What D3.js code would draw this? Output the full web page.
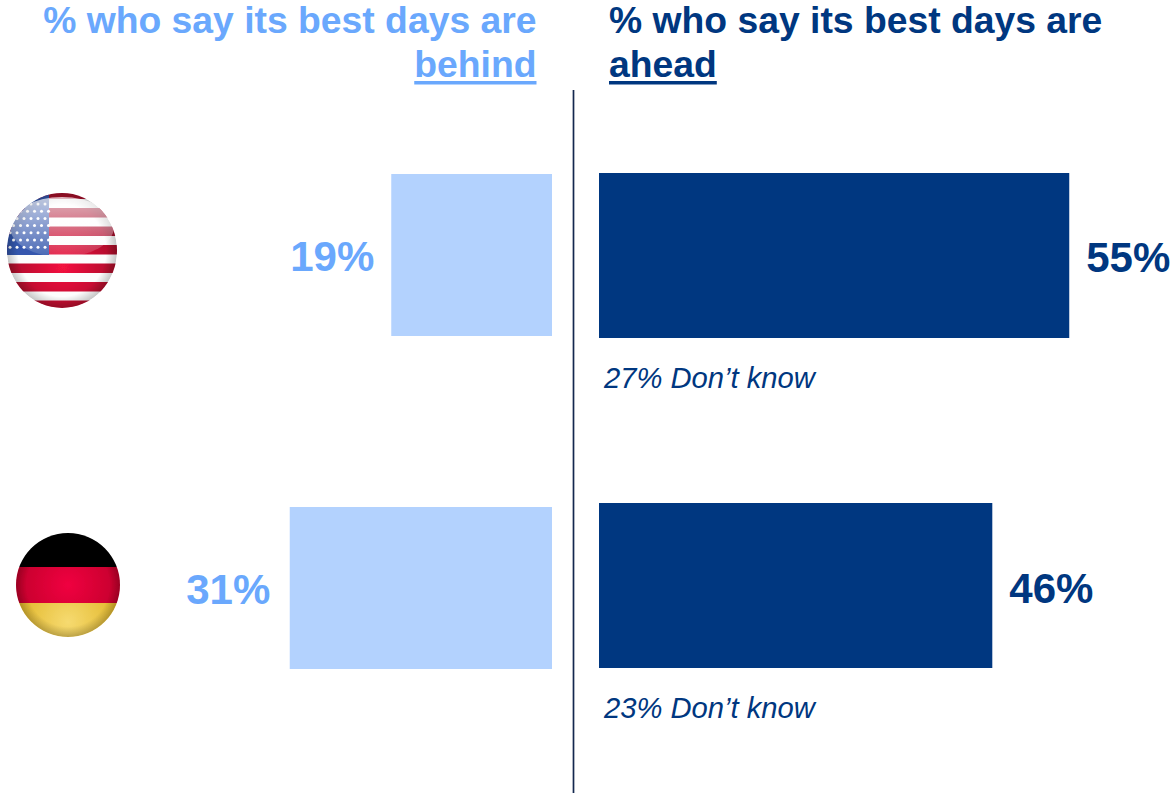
<!DOCTYPE html>
<html>
<head>
<meta charset="utf-8">
<script src="https://cdn.jsdelivr.net/npm/d3@7"></script>
<style>
html, body { margin: 0; padding: 0; background: #fff; }
svg { display: block; font-family: "Liberation Sans", Arial, sans-serif; }
</style>
</head>
<body>
<div id="chart"></div>
<script>
const countries = ['United States', 'Germany'];
const behind = [19, 31];
const ahead = [55, 46];
const dontKnow = [27, 23];

const lightBar = '#b3d2fe';
const lightText = '#6aa8fd';
const navy = '#003780';

const width = 1171;
const height = 793;

const svg = d3.select('#chart').append('svg')
    .attr('width', width)
    .attr('height', height);

const defs = svg.append('defs');

// x scales, the two sides grow away from the divider
const xBehind = d3.scaleLinear().domain([0, 100]).range([552, 552 - 846]);
const xAhead = d3.scaleLinear().domain([0, 100]).range([599, 599 + 855]);

// y scales
const yBehind = d3.scaleBand().domain(countries).range([174, 669]).paddingInner(0.5135);
const yAhead = d3.scaleBand().domain(countries).range([173, 668]).paddingInner(0.5);

// titles, underline drawn by hand because it is thicker than the font's own
function title(x, anchor, color, first, second) {
    const t = svg.append('text')
        .attr('text-anchor', anchor)
        .attr('font-weight', 'bold')
        .attr('font-size', 37.3)
        .attr('fill', color);
    t.append('tspan').attr('x', x).attr('y', 33).text(first);
    const s = t.append('tspan').attr('x', x).attr('y', 77).text(second);
    const w = s.node().getComputedTextLength();
    svg.append('rect')
        .attr('x', anchor === 'end' ? x - w : x)
        .attr('y', 81)
        .attr('width', w)
        .attr('height', 3.5)
        .attr('fill', color);
}
title(536.5, 'end', lightText, '% who say its best days are', 'behind');
title(609, 'start', navy, '% who say its best days are', 'ahead');

// divider
svg.append('line')
    .attr('x1', 573.5).attr('x2', 573.5)
    .attr('y1', 90).attr('y2', 793)
    .attr('stroke', '#14284f')
    .attr('stroke-width', 1.7);

// behind bars
svg.append('g').selectAll('rect')
    .data(countries)
    .enter().append('rect')
    .attr('x', (d, i) => xBehind(behind[i]))
    .attr('y', d => yBehind(d))
    .attr('width', (d, i) => xBehind(0) - xBehind(behind[i]))
    .attr('height', yBehind.bandwidth())
    .attr('fill', lightBar);

// ahead bars
svg.append('g').selectAll('rect')
    .data(countries)
    .enter().append('rect')
    .attr('x', xAhead(0))
    .attr('y', d => yAhead(d))
    .attr('width', (d, i) => xAhead(ahead[i]) - xAhead(0))
    .attr('height', yAhead.bandwidth())
    .attr('fill', navy);

// value labels
svg.append('g').selectAll('text')
    .data(countries)
    .enter().append('text')
    .attr('x', (d, i) => xBehind(behind[i]) - (i ? 19.5 : 17))
    .attr('y', d => yBehind(d) + yBehind.bandwidth() / 2 + 16)
    .attr('text-anchor', 'end')
    .attr('font-weight', 'bold')
    .attr('font-size', 42)
    .attr('fill', lightText)
    .text((d, i) => behind[i] + '%');

svg.append('g').selectAll('text')
    .data(countries)
    .enter().append('text')
    .attr('x', (d, i) => xAhead(ahead[i]) + 17)
    .attr('y', (d, i) => yAhead(d) + yAhead.bandwidth() / 2 + 16 + (i ? 1 : 0))
    .attr('font-weight', 'bold')
    .attr('font-size', 42)
    .attr('fill', navy)
    .text((d, i) => ahead[i] + '%');

// don't know notes
svg.append('g').selectAll('text')
    .data(countries)
    .enter().append('text')
    .attr('x', 604)
    .attr('y', d => yAhead(d) + yAhead.bandwidth() + 50)
    .attr('font-style', 'italic')
    .attr('font-size', 29.2)
    .attr('fill', navy)
    .text((d, i) => dontKnow[i] + '% Don\u2019t know');

// flag shading
const shade = defs.append('radialGradient').attr('id', 'shade');
shade.append('stop').attr('offset', '0.8').attr('stop-color', '#000').attr('stop-opacity', 0);
shade.append('stop').attr('offset', '1').attr('stop-color', '#000').attr('stop-opacity', 0.22);

const usRed = defs.append('radialGradient').attr('id', 'usRed')
    .attr('gradientUnits', 'userSpaceOnUse')
    .attr('cx', 63).attr('cy', 267).attr('r', 58);
usRed.append('stop').attr('offset', '0').attr('stop-color', '#f4123f');
usRed.append('stop').attr('offset', '1').attr('stop-color', '#a80a2a');

const gloss = defs.append('linearGradient').attr('id', 'gloss')
    .attr('x1', 0).attr('x2', 0).attr('y1', 0).attr('y2', 1);
gloss.append('stop').attr('offset', '0').attr('stop-color', '#fff').attr('stop-opacity', 0.7);
gloss.append('stop').attr('offset', '1').attr('stop-color', '#fff').attr('stop-opacity', 0.1);

const deRed = defs.append('radialGradient').attr('id', 'deRed')
    .attr('gradientUnits', 'userSpaceOnUse')
    .attr('cx', 68).attr('cy', 585).attr('r', 52);
deRed.append('stop').attr('offset', '0').attr('stop-color', '#f00040');
deRed.append('stop').attr('offset', '1').attr('stop-color', '#c4002c');

const gold = defs.append('radialGradient').attr('id', 'gold')
    .attr('gradientUnits', 'userSpaceOnUse')
    .attr('cx', 68).attr('cy', 622).attr('r', 50);
gold.append('stop').attr('offset', '0').attr('stop-color', '#f6da70');
gold.append('stop').attr('offset', '1').attr('stop-color', '#e3b92e');

const soft = defs.append('filter').attr('id', 'soft');
soft.append('feGaussianBlur').attr('stdDeviation', 0.7);

// US flag
const usX = 62, usY = 250.5, usRx = 55, usRy = 57.5;
defs.append('clipPath').attr('id', 'usClip').append('ellipse')
    .attr('cx', usX).attr('cy', usY).attr('rx', usRx).attr('ry', usRy);
const us = svg.append('g').attr('filter', 'url(#soft)');
const usInner = us.append('g').attr('clip-path', 'url(#usClip)');
usInner.append('rect')
    .attr('x', usX - usRx).attr('y', usY - usRy)
    .attr('width', usRx * 2).attr('height', usRy * 2)
    .attr('fill', '#fdfdfd');
usInner.selectAll('.stripe').data(d3.range(7)).enter().append('rect')
    .attr('class', 'stripe')
    .attr('x', usX - usRx).attr('width', usRx * 2)
    .attr('y', d => 189.5 + d * 18.5).attr('height', 9.5)
    .attr('fill', 'url(#usRed)');
usInner.append('rect')
    .attr('x', usX - usRx).attr('y', usY - usRy)
    .attr('width', 49 - (usX - usRx)).attr('height', 255 - (usY - usRy))
    .attr('fill', '#3457ad');
const stars = [];
d3.range(7).forEach(r => d3.range(6).forEach(c => {
    stars.push([10 + c * 7 + (r % 2 ? 3.5 : 0), 204 + r * 7.2]);
}));
usInner.selectAll('.star').data(stars).enter().append('circle')
    .attr('class', 'star')
    .attr('cx', d => d[0]).attr('cy', d => d[1]).attr('r', 1.5).attr('fill', '#fff');
usInner.append('ellipse')
    .attr('cx', usX).attr('cy', usY).attr('rx', usRx).attr('ry', usRy)
    .attr('fill', 'url(#shade)');
usInner.append('ellipse')
    .attr('cx', usX).attr('cy', 227).attr('rx', usRx - 3).attr('ry', 30)
    .attr('fill', 'url(#gloss)');

// German flag
const deX = 68, deY = 585, deR = 52;
defs.append('clipPath').attr('id', 'deClip').append('circle')
    .attr('cx', deX).attr('cy', deY).attr('r', deR);
const de = svg.append('g').attr('filter', 'url(#soft)');
const deInner = de.append('g').attr('clip-path', 'url(#deClip)');
deInner.append('rect').attr('x', deX - deR).attr('y', 533).attr('width', deR * 2).attr('height', 34).attr('fill', '#050505');
deInner.append('rect').attr('x', deX - deR).attr('y', 567).attr('width', deR * 2).attr('height', 36).attr('fill', 'url(#deRed)');
deInner.append('rect').attr('x', deX - deR).attr('y', 603).attr('width', deR * 2).attr('height', 34).attr('fill', 'url(#gold)');
deInner.append('circle').attr('cx', deX).attr('cy', deY).attr('r', deR).attr('fill', 'url(#shade)');
</script>
</body>
</html>
